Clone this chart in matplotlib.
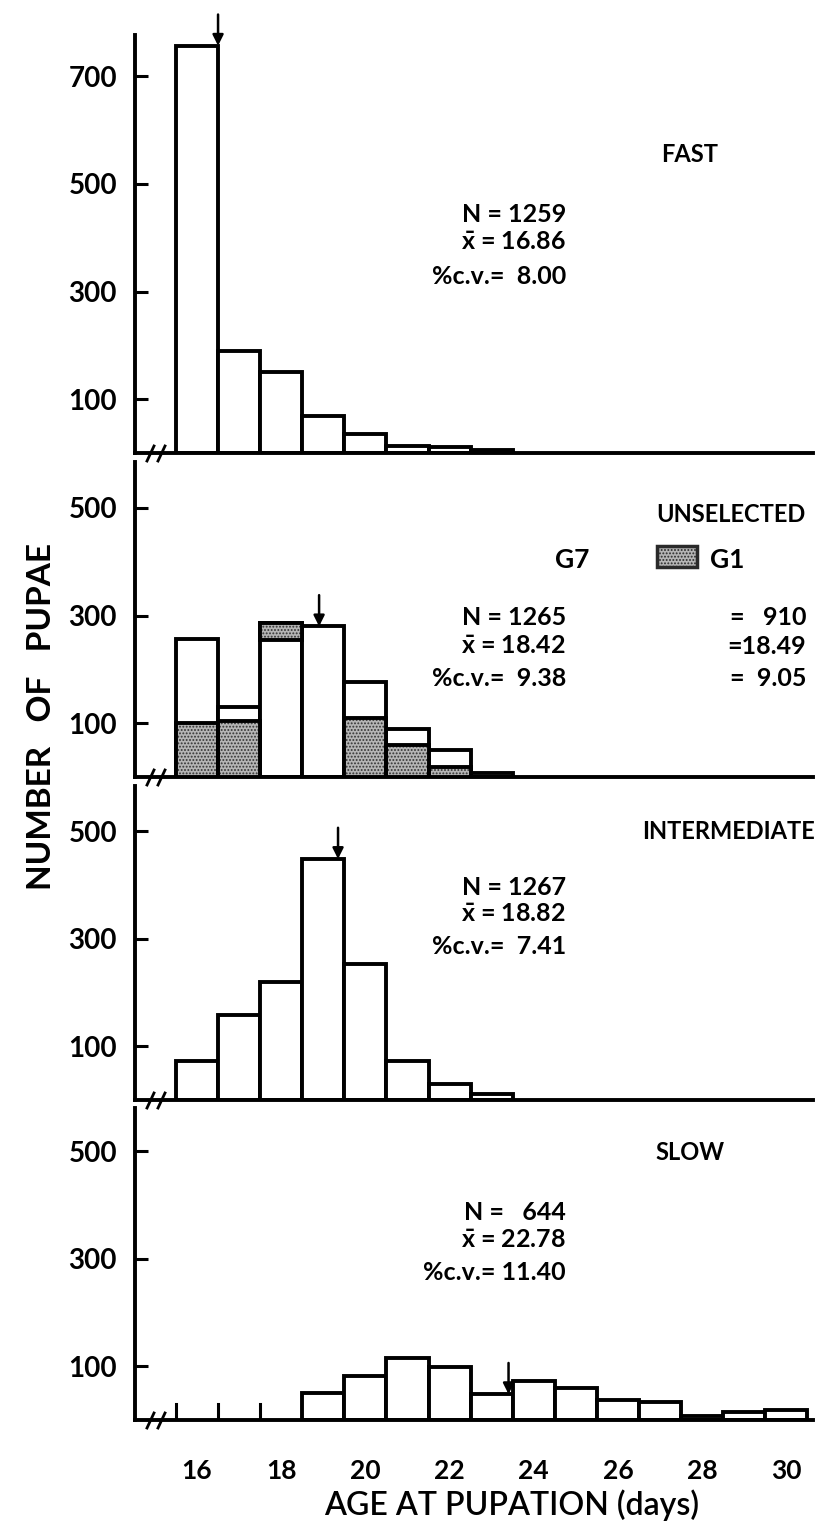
import numpy as np
import matplotlib
matplotlib.use('Agg')
import matplotlib.pyplot as plt
from matplotlib.patches import Rectangle
from matplotlib.lines import Line2D

plt.rcParams['font.family'] = ['Lato', 'DejaVu Sans']
plt.rcParams['font.weight'] = 'bold'
plt.rcParams['mathtext.fontset'] = 'custom'
plt.rcParams['mathtext.bf'] = 'Lato:bold'
plt.rcParams['mathtext.rm'] = 'Lato:bold'
plt.rcParams['hatch.linewidth'] = 0.9

# ---- data ----
days = np.arange(16, 31)

fast = [757, 189, 150, 69, 35, 13, 11, 5, 0, 0, 0, 0, 0, 0, 0]
unsel_g7 = [257, 130, 254, 280, 177, 90, 50, 7, 0, 0, 0, 0, 0, 0, 0]
unsel_g1 = [100, 105, 287, 0, 110, 59, 18, 0, 0, 0, 0, 0, 0, 0, 0]  # shaded parts only
inter = [72, 158, 220, 448, 252, 72, 30, 12, 0, 0, 0, 0, 0, 0, 0]
slow = [0, 0, 0, 51, 81, 115, 98, 48, 72, 59, 38, 33, 8, 14, 18]

names = ['FAST', 'UNSELECTED', 'INTERMEDIATE', 'SLOW']
stats_n = ['1259', '1265', '1267', '  644']
stats_mean = ['16.86', '18.42', '18.82', '22.78']
stats_cv = [' 8.00', ' 9.38', ' 7.41', '11.40']
g1_stats = ['910', '18.49', '9.05']
arrow_x = [16.5, 18.9, 19.35, 23.4]

yticks_fast = [100, 300, 500, 700]
yticks_other = [100, 300, 500]
xticks = [16, 18, 20, 22, 24, 26, 28, 30]

# ---- layout in pixels ----
W, H = 817, 1540
fig = plt.figure(figsize=(W / 100, H / 100), dpi=100)


def fx(x):
    return x / W


def fy(y):
    return 1 - y / H


left_px, right_px = 135, 813
bases = [453, 777, 1100, 1420]
tops = [35, 462, 786, 1108]
ppu = 0.538
x0 = 16 + (left_px - 197) / 42.1
x1 = 16 + (right_px - 197) / 42.1

series = [fast, unsel_g7, inter, slow]
axes = []
for i in range(4):
    ax = fig.add_axes([fx(left_px), fy(bases[i]), (right_px - left_px) / W,
                       (bases[i] - tops[i]) / H])
    axes.append(ax)
    ax.set_xlim(x0, x1)
    ax.set_ylim(0, (bases[i] - tops[i]) / ppu)
    for s in ['top', 'right']:
        ax.spines[s].set_visible(False)
    for s in ['left', 'bottom']:
        ax.spines[s].set_linewidth(2.8)
    ax.set_yticks(yticks_fast if i == 0 else yticks_other)
    ax.tick_params(axis='y', direction='in', length=9, width=2.2, pad=13,
                   labelsize=20)
    ax.set_xticks(xticks)
    ax.tick_params(axis='x', length=0, pad=28, labelsize=19)
    if i < 3:
        ax.set_xticklabels([])
    for lab in ax.get_yticklabels() + ax.get_xticklabels():
        lab.set_fontweight('bold')

    vals = np.array(series[i])
    top_vals = vals.copy()
    if i == 1:
        top_vals = np.maximum(vals, unsel_g1)
    nz = top_vals > 0
    ax.bar(days[nz], top_vals[nz], width=1, color='white', edgecolor='black',
           linewidth=2.8, zorder=2)

    # arrow at mean
    k = int(round(arrow_x[i]))
    tip = top_vals[k - 16]
    ax.annotate('', xy=(arrow_x[i], tip), xytext=(arrow_x[i], tip + 58),
                arrowprops=dict(arrowstyle='-|>', lw=1.8, color='black',
                                mutation_scale=16, shrinkA=0, shrinkB=0),
                annotation_clip=False, zorder=5)

# shaded G1 parts in unselected panel
ax = axes[1]
g7 = np.array(unsel_g7)
g1 = np.array(unsel_g1)
for d, a, b in zip(days, g7, g1):
    if b == 0:
        continue
    lo, hi = (0, b) if b <= a else (a, b)
    ax.bar(d, hi - lo, bottom=lo, width=1, color='#b5b5b5', edgecolor='#333333',
           hatch='.....', linewidth=0, zorder=3)
    ax.bar(d, hi - lo, bottom=lo, width=1, fill=False, edgecolor='black',
           linewidth=2.8, zorder=4)

# short edge ticks for empty bins in the slow panel
ax = axes[3]
sv = np.array(slow)
for d, v in zip(days, sv):
    if v == 0:
        ax.plot([d - 0.5, d - 0.5], [0, 30], color='black', lw=2.2, zorder=3)

# axis break marks
for base in bases:
    for xs in (147, 158):
        fig.add_artist(Line2D([fx(xs), fx(xs + 7)], [fy(base + 8), fy(base - 7)],
                              color='black', lw=2))

# ---- text ----
kw = dict(fontsize=18, fontweight='bold', ha='right', va='center')
name_pos = [(690, 155, 'center'), (806, 515, 'right'), (815, 832, 'right'),
            (690, 1153, 'center')]
for i in range(4):
    x, y, ha = name_pos[i]
    fig.text(fx(x), fy(y), names[i], fontsize=17, fontweight='bold',
             ha=ha, va='center')

stat_y = [(215, 243, 276), (617, 646, 678), (887, 915, 947), (1212, 1240, 1273)]
for i in range(4):
    ya, yb, yc = stat_y[i]
    fig.text(fx(566), fy(ya), 'N = ' + stats_n[i], **kw)
    fig.text(fx(566), fy(yb), r'$\mathbf{\bar{x}}$ = ' + stats_mean[i], **kw)
    fig.text(fx(566), fy(yc), '%c.v.= ' + stats_cv[i], **kw)

fig.text(fx(806), fy(617), '=   ' + g1_stats[0], **kw)
fig.text(fx(806), fy(646), '=' + g1_stats[1], **kw)
fig.text(fx(806), fy(678), '=  ' + g1_stats[2], **kw)

fig.text(fx(572), fy(560), 'G7', fontsize=19, fontweight='bold',
         ha='center', va='center')
fig.text(fx(710), fy(560), 'G1', fontsize=19, fontweight='bold',
         ha='left', va='center')
fig.add_artist(Rectangle((fx(657), fy(567)), 40 / W, 21 / H, facecolor='#b5b5b5',
                         edgecolor='#2a2a2a', hatch='.....', linewidth=2.5,
                         transform=fig.transFigure))

fig.text(fx(42), fy(717), 'NUMBER   OF   PUPAE', rotation=90, fontsize=24,
         fontweight='bold', ha='center', va='center')
fig.text(fx(512), fy(1505), 'AGE AT PUPATION (days)', fontsize=23,
         ha='center', va='center', fontweight='semibold')

fig.savefig('out.png', dpi=100)
